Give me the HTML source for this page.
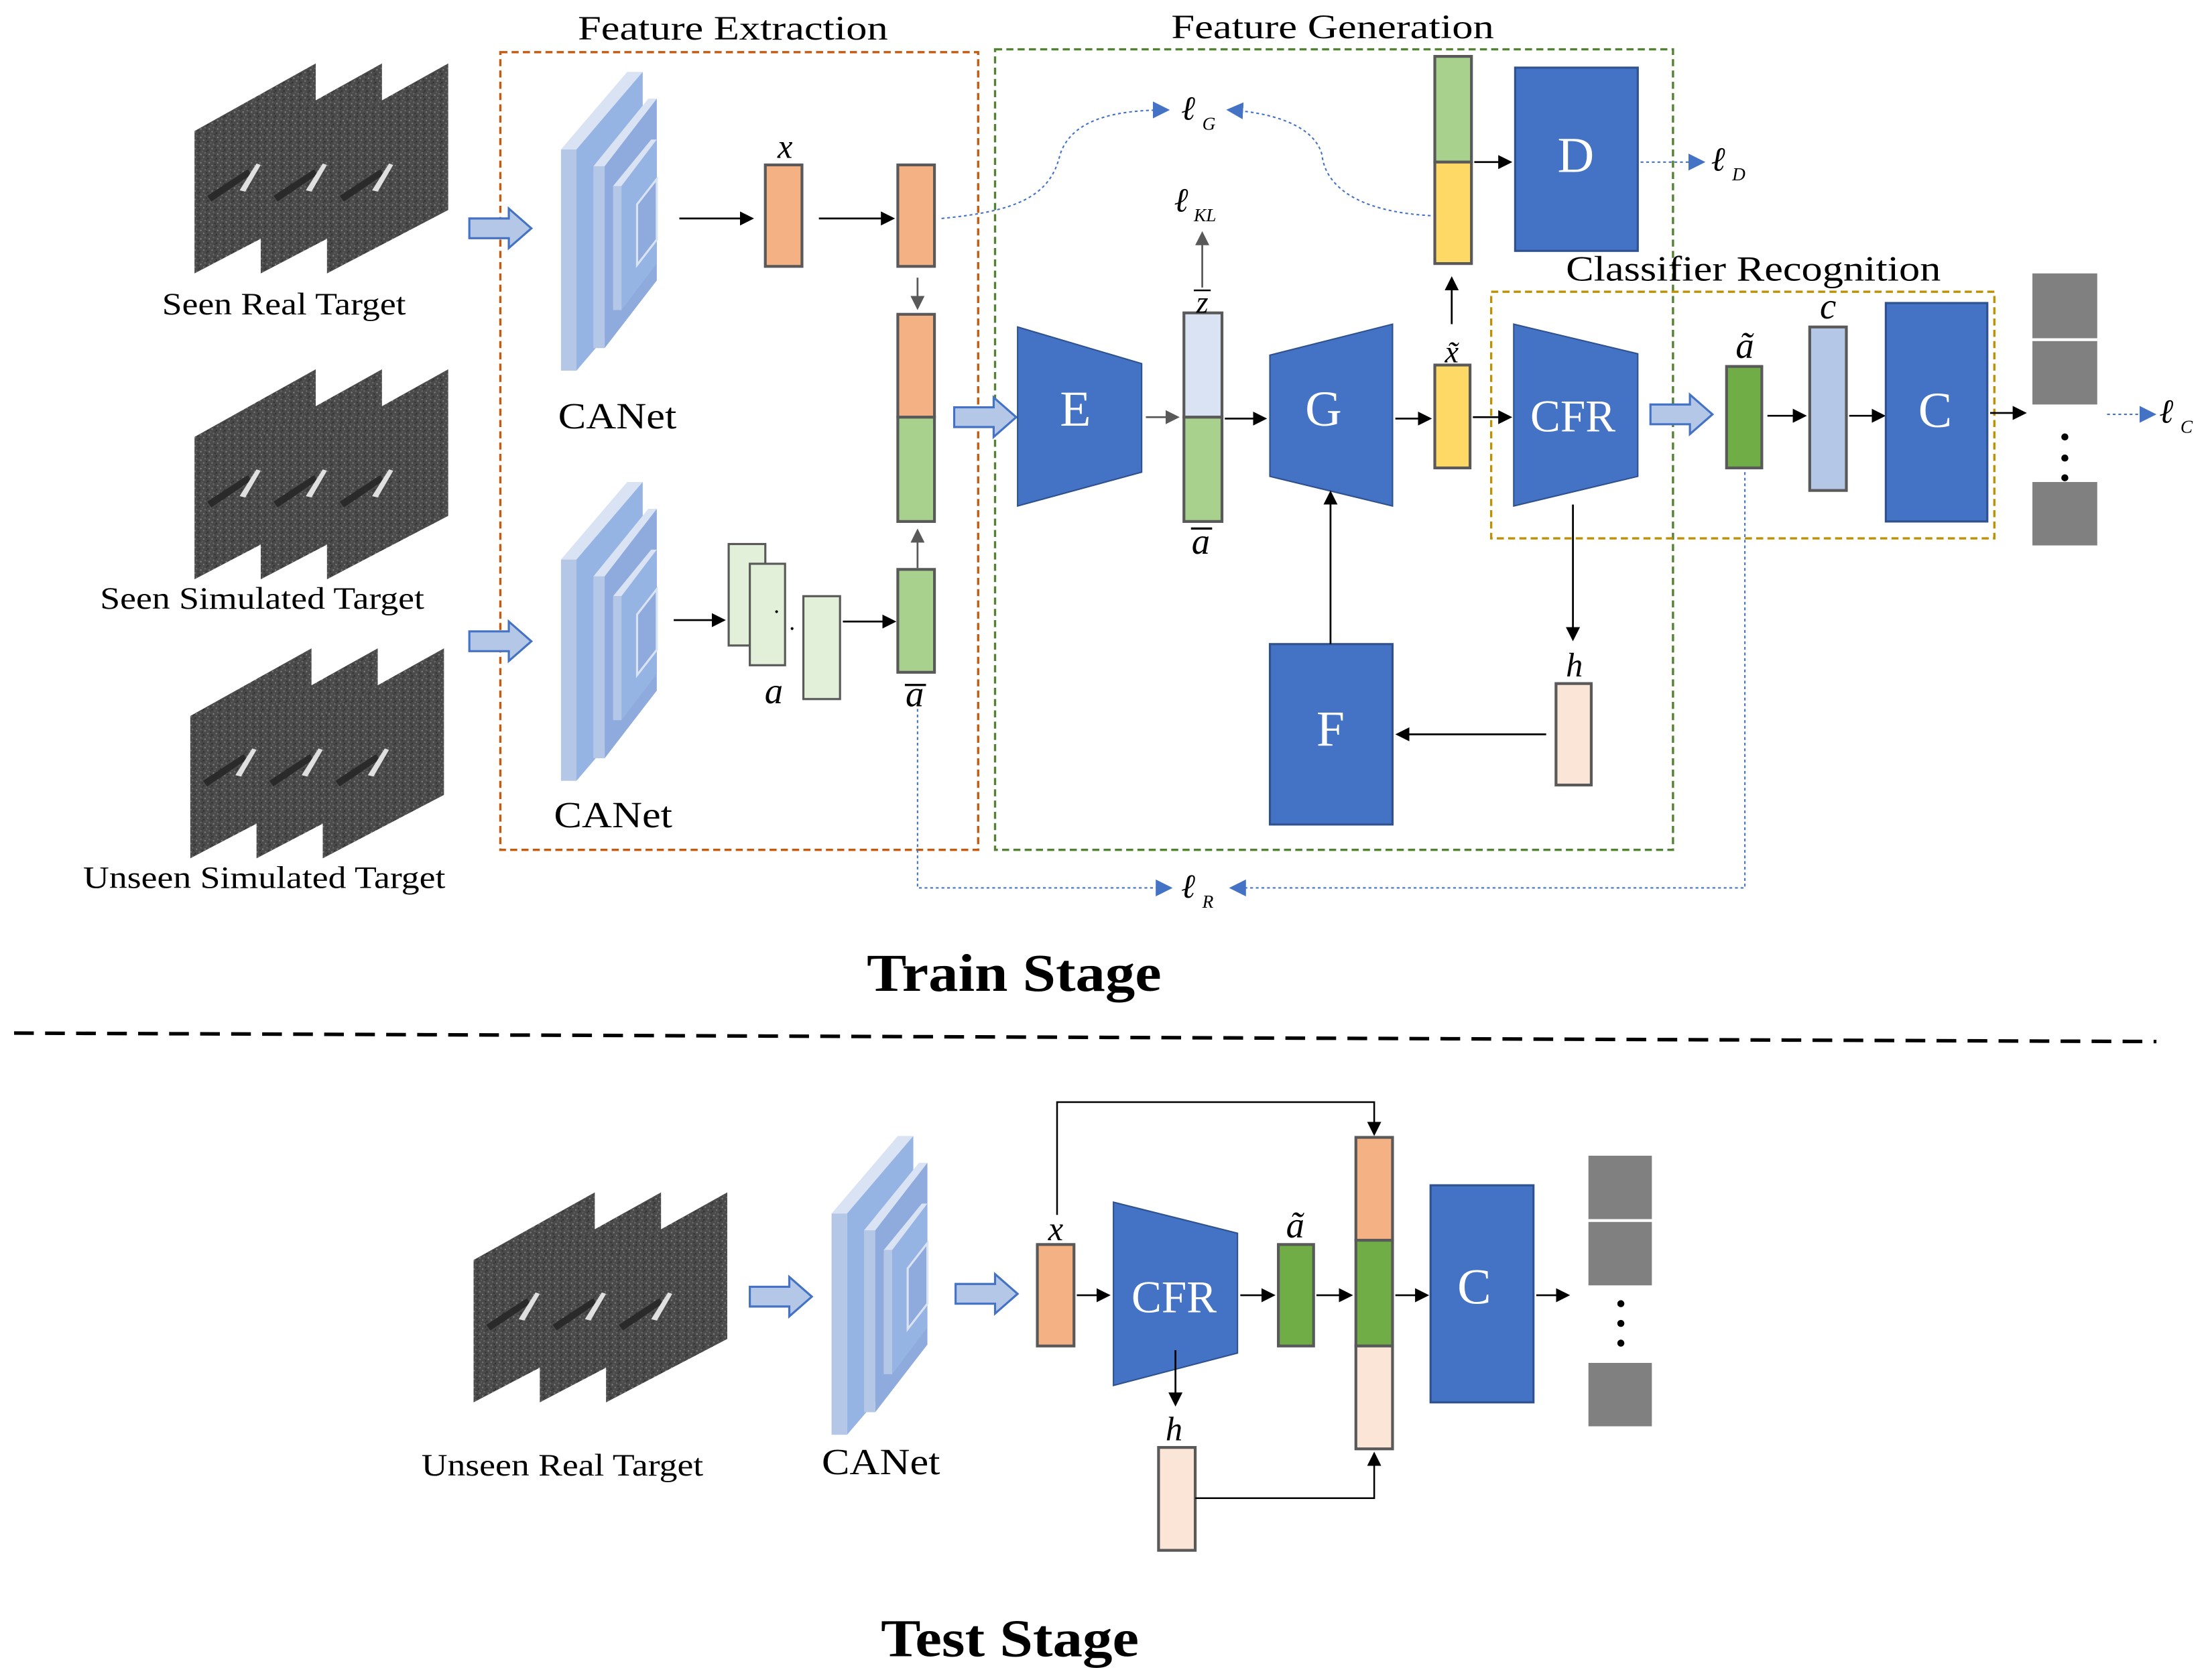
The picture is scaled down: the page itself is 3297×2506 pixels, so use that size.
<!DOCTYPE html>
<html><head><meta charset="utf-8"><style>
html,body{margin:0;padding:0;background:#fff;}
svg{display:block;}
text{font-family:"Liberation Serif",serif;}
</style></head><body>
<svg width="3297" height="2506" viewBox="0 0 1568 1192" preserveAspectRatio="none" xmlns="http://www.w3.org/2000/svg">
<defs>
<pattern id="sar" width="6" height="6" patternUnits="userSpaceOnUse">
<rect width="6" height="6" fill="#4a4a4a"/>
<rect x="0" y="0" width="1" height="1" fill="#777"/>
<rect x="3" y="1" width="1" height="1" fill="#2e2e2e"/>
<rect x="1" y="3" width="1" height="1" fill="#6a6a6a"/>
<rect x="4" y="4" width="1" height="1" fill="#808080"/>
<rect x="2" y="5" width="1" height="1" fill="#333"/>
<rect x="5" y="2" width="1" height="1" fill="#5e5e5e"/>
<rect x="2" y="2" width="1" height="1" fill="#393939"/>
</pattern>
<marker id="ab" markerWidth="10" markerHeight="10" refX="8" refY="5" orient="auto" markerUnits="userSpaceOnUse"><path d="M0,0 L10,5 L0,10 z" fill="#000"/></marker>
<marker id="ag" markerWidth="10" markerHeight="10" refX="8" refY="5" orient="auto" markerUnits="userSpaceOnUse"><path d="M0,0 L10,5 L0,10 z" fill="#595959"/></marker>
<marker id="au" markerWidth="12" markerHeight="12" refX="10" refY="6" orient="auto" markerUnits="userSpaceOnUse"><path d="M0,0 L12,6 L0,12 z" fill="#4472c4"/></marker>
<g id="panel">
<polygon points="0,48 86,0 86,104 0,149" fill="url(#sar)"/>
<path d="M9,94 L38,75 L40,79 L12,98 z" fill="#2a2a2a"/>
<path d="M32,90 L44,71 L47,72 L36,91 z" fill="#e0e0e0"/>
</g>
<g id="stack">
<use href="#panel" x="0" y="0"/>
<use href="#panel" x="47" y="0"/>
<use href="#panel" x="94" y="0"/>
</g>
<g id="canet">
<polygon points="0,55 47,0 58,0 11,55" fill="#dae3f3"/>
<polygon points="11,55 58,0 58,157 11,212" fill="#95b3e3"/>
<rect x="0" y="55" width="11" height="157" fill="#b4c7e7"/>
<polygon points="23,67 62,19 68,19 31,67" fill="#dae3f3"/>
<polygon points="31,67 68,19 68,148 31,196" fill="#8faadc"/>
<rect x="23" y="67" width="8" height="129" fill="#b4c7e7"/>
<polygon points="37,81 64,48 68,48 43,81" fill="#dae3f3"/>
<polygon points="43,81 68,48 68,136 43,169" fill="#95b3e3"/>
<rect x="37" y="81" width="6" height="88" fill="#b4c7e7"/>
<polygon points="54,94 68,76 68,119 54,137" fill="#8faadc" stroke="#dae3f3" stroke-width="1.5"/>
</g>
<g id="barrow">
<path d="M0,-7 L28,-7 L28,-14 L44,0 L28,14 L28,7 L0,7 z" fill="#b4c7e7" stroke="#4472c4" stroke-width="1.5"/>
</g>
</defs>

<!-- titles -->
<text x="410" y="28" font-size="24" textLength="220" lengthAdjust="spacingAndGlyphs">Feature Extraction</text>
<text x="831" y="27" font-size="24" textLength="229" lengthAdjust="spacingAndGlyphs">Feature Generation</text>

<!-- boxes -->
<rect x="355" y="37" width="339" height="566" fill="none" stroke="#c55a11" stroke-width="1.6" stroke-dasharray="5,3"/>
<rect x="706" y="35" width="481" height="568" fill="none" stroke="#548235" stroke-width="1.6" stroke-dasharray="5,3"/>

<!-- image stacks -->
<use href="#stack" x="138" y="45"/>
<use href="#stack" x="138" y="262"/>
<use href="#stack" x="135" y="460"/>
<text x="115" y="223" font-size="22" textLength="173" lengthAdjust="spacingAndGlyphs">Seen Real Target</text>
<text x="71" y="432" font-size="22" textLength="230" lengthAdjust="spacingAndGlyphs">Seen Simulated Target</text>
<text x="59" y="630" font-size="22" textLength="257" lengthAdjust="spacingAndGlyphs">Unseen Simulated Target</text>

<use href="#barrow" x="333" y="162"/>
<use href="#barrow" x="333" y="455"/>

<use href="#canet" x="398" y="51"/>
<use href="#canet" x="398" y="342"/>
<text x="396" y="304" font-size="26" textLength="84" lengthAdjust="spacingAndGlyphs">CANet</text>
<text x="393" y="587" font-size="26" textLength="84" lengthAdjust="spacingAndGlyphs">CANet</text>

<!-- feature extraction contents -->
<text x="557" y="112" font-size="24" font-style="italic" text-anchor="middle">x</text>
<line x1="482" y1="155" x2="533" y2="155" stroke="#000" stroke-width="1.3" marker-end="url(#ab)"/>
<rect x="543" y="117" width="26" height="72" fill="#f4b183" stroke="#595959" stroke-width="2"/>
<line x1="581" y1="155" x2="633" y2="155" stroke="#000" stroke-width="1.3" marker-end="url(#ab)"/>
<rect x="637" y="117" width="26" height="72" fill="#f4b183" stroke="#595959" stroke-width="2"/>
<line x1="651" y1="197" x2="651" y2="218" stroke="#595959" stroke-width="1.3" marker-end="url(#ag)"/>
<rect x="637" y="223" width="26" height="73" fill="#f4b183" stroke="#595959" stroke-width="2"/>
<rect x="637" y="296" width="26" height="74" fill="#a9d18e" stroke="#595959" stroke-width="2"/>
<line x1="651" y1="403" x2="651" y2="377" stroke="#595959" stroke-width="1.3" marker-end="url(#ag)"/>
<rect x="637" y="404" width="26" height="73" fill="#a9d18e" stroke="#595959" stroke-width="2"/>
<text x="649" y="501" font-size="26" font-style="italic" text-anchor="middle">a</text>
<line x1="642" y1="486" x2="657" y2="486" stroke="#000" stroke-width="1.5"/>
<line x1="478" y1="440" x2="513" y2="440" stroke="#000" stroke-width="1.3" marker-end="url(#ab)"/>
<rect x="517" y="386" width="26" height="72" fill="#e2f0d9" stroke="#595959" stroke-width="1.5"/>
<rect x="532" y="400" width="25" height="72" fill="#e2f0d9" stroke="#595959" stroke-width="1.5"/>
<rect x="570" y="423" width="26" height="73" fill="#e2f0d9" stroke="#595959" stroke-width="1.5"/>
<circle cx="551" cy="434" r="1" fill="#000"/><circle cx="562" cy="446" r="1" fill="#000"/>
<line x1="598" y1="441" x2="634" y2="441" stroke="#000" stroke-width="1.3" marker-end="url(#ab)"/>
<text x="549" y="499" font-size="26" font-style="italic" text-anchor="middle">a</text>

<!-- generation -->
<use href="#barrow" x="677" y="296"/>
<polygon points="722,232 810,258 810,335 722,359" fill="#4472c4" stroke="#2f528f" stroke-width="1"/>
<text x="763" y="302" font-size="36" fill="#fff" text-anchor="middle">E</text>
<line x1="813" y1="296" x2="835" y2="296" stroke="#595959" stroke-width="1.3" marker-end="url(#ag)"/>
<rect x="840" y="222" width="27" height="74" fill="#dae3f3" stroke="#595959" stroke-width="2"/>
<rect x="840" y="296" width="27" height="74" fill="#a9d18e" stroke="#595959" stroke-width="2"/>
<text x="853" y="222" font-size="22" font-style="italic" text-anchor="middle">z</text>
<line x1="847" y1="206" x2="859" y2="206" stroke="#000" stroke-width="1.2"/>
<text x="852" y="393" font-size="26" font-style="italic" text-anchor="middle">a</text>
<line x1="845" y1="375" x2="860" y2="375" stroke="#000" stroke-width="1.5"/>
<line x1="853" y1="204" x2="853" y2="166" stroke="#595959" stroke-width="1.3" marker-end="url(#ag)"/>
<text x="833" y="150" font-size="24" font-style="italic">ℓ</text><text x="847" y="157" font-size="13" font-style="italic">KL</text>
<line x1="869" y1="297" x2="897" y2="297" stroke="#000" stroke-width="1.3" marker-end="url(#ab)"/>
<polygon points="901,252 988,230 988,359 901,338" fill="#4472c4" stroke="#2f528f" stroke-width="1"/>
<text x="939" y="302" font-size="36" fill="#fff" text-anchor="middle">G</text>
<line x1="990" y1="297" x2="1014" y2="297" stroke="#000" stroke-width="1.3" marker-end="url(#ab)"/>
<rect x="1018" y="259" width="25" height="73" fill="#ffd966" stroke="#595959" stroke-width="2"/>
<text x="1030" y="257" font-size="22" font-style="italic" text-anchor="middle">x̃</text>
<line x1="1045" y1="296" x2="1071" y2="296" stroke="#000" stroke-width="1.3" marker-end="url(#ab)"/>
<line x1="1030" y1="230" x2="1030" y2="198" stroke="#000" stroke-width="1.3" marker-end="url(#ab)"/>
<rect x="1018" y="40" width="26" height="75" fill="#a9d18e" stroke="#595959" stroke-width="2"/>
<rect x="1018" y="115" width="26" height="72" fill="#ffd966" stroke="#595959" stroke-width="2"/>
<line x1="1046" y1="115" x2="1071" y2="115" stroke="#000" stroke-width="1.3" marker-end="url(#ab)"/>
<rect x="1075" y="48" width="87" height="130" fill="#4472c4" stroke="#2f528f" stroke-width="1.5"/>
<text x="1118" y="122" font-size="36" fill="#fff" text-anchor="middle">D</text>
<line x1="1164" y1="115" x2="1208" y2="115" stroke="#4472c4" stroke-width="1" stroke-dasharray="2,2" marker-end="url(#au)"/>
<text x="1214" y="121" font-size="24" font-style="italic">ℓ</text><text x="1229" y="128" font-size="13" font-style="italic">D</text>
<path d="M668,155 C720,150 745,140 752,110 C760,85 790,78 828,78" fill="none" stroke="#4472c4" stroke-width="1" stroke-dasharray="2,2" marker-end="url(#au)"/>
<path d="M1015,153 C960,150 940,130 938,110 C933,90 905,80 872,78" fill="none" stroke="#4472c4" stroke-width="1" stroke-dasharray="2,2" marker-end="url(#au)"/>
<text x="838" y="85" font-size="24" font-style="italic">ℓ</text><text x="853" y="92" font-size="13" font-style="italic">G</text>
<rect x="901" y="457" width="87" height="128" fill="#4472c4" stroke="#2f528f" stroke-width="1.5"/>
<text x="944" y="529" font-size="36" fill="#fff" text-anchor="middle">F</text>
<line x1="944" y1="457" x2="944" y2="350" stroke="#000" stroke-width="1.3" marker-end="url(#ab)"/>
<rect x="1104" y="485" width="25" height="72" fill="#fbe5d6" stroke="#595959" stroke-width="2"/>
<text x="1117" y="480" font-size="24" font-style="italic" text-anchor="middle">h</text>
<line x1="1097" y1="521" x2="992" y2="521" stroke="#000" stroke-width="1.3" marker-end="url(#ab)"/>
<line x1="1116" y1="358" x2="1116" y2="453" stroke="#000" stroke-width="1.3" marker-end="url(#ab)"/>

<!-- classifier -->
<rect x="1058" y="207" width="357" height="175" fill="none" stroke="#bf9000" stroke-width="1.6" stroke-dasharray="5,3"/>
<text x="1111" y="199" font-size="25" textLength="266" lengthAdjust="spacingAndGlyphs">Classifier Recognition</text>
<polygon points="1074,230 1162,251 1162,338 1074,359" fill="#4472c4" stroke="#2f528f" stroke-width="1"/>
<text x="1116" y="306" font-size="32" fill="#fff" text-anchor="middle">CFR</text>
<use href="#barrow" x="1171" y="294"/>
<rect x="1225" y="260" width="25" height="72" fill="#70ad47" stroke="#595959" stroke-width="2"/>
<text x="1238" y="254" font-size="26" font-style="italic" text-anchor="middle">ã</text>
<line x1="1254" y1="295" x2="1280" y2="295" stroke="#000" stroke-width="1.3" marker-end="url(#ab)"/>
<rect x="1284" y="232" width="26" height="116" fill="#b4c7e7" stroke="#595959" stroke-width="2"/>
<text x="1297" y="226" font-size="26" font-style="italic" text-anchor="middle">c</text>
<line x1="1312" y1="295" x2="1336" y2="295" stroke="#000" stroke-width="1.3" marker-end="url(#ab)"/>
<rect x="1338" y="215" width="72" height="155" fill="#4472c4" stroke="#2f528f" stroke-width="1.5"/>
<text x="1373" y="303" font-size="36" fill="#fff" text-anchor="middle">C</text>
<line x1="1412" y1="293" x2="1436" y2="293" stroke="#000" stroke-width="1.3" marker-end="url(#ab)"/>
<rect x="1442" y="194" width="46" height="46" fill="#808080"/>
<rect x="1442" y="242" width="46" height="45" fill="#808080"/>
<circle cx="1465" cy="310" r="2.5" fill="#000"/><circle cx="1465" cy="325" r="2.5" fill="#000"/><circle cx="1465" cy="339" r="2.5" fill="#000"/>
<rect x="1442" y="342" width="46" height="45" fill="#808080"/>
<line x1="1495" y1="294" x2="1528" y2="294" stroke="#4472c4" stroke-width="1" stroke-dasharray="2,2" marker-end="url(#au)"/>
<text x="1532" y="300" font-size="24" font-style="italic">ℓ</text><text x="1547" y="307" font-size="13" font-style="italic">C</text>

<!-- R loss -->
<polyline points="651,503 651,630 830,630" fill="none" stroke="#4472c4" stroke-width="1" stroke-dasharray="2,2" marker-end="url(#au)"/>
<polyline points="1238,335 1238,630 874,630" fill="none" stroke="#4472c4" stroke-width="1" stroke-dasharray="2,2" marker-end="url(#au)"/>
<text x="838" y="637" font-size="24" font-style="italic">ℓ</text><text x="853" y="644" font-size="13" font-style="italic">R</text>

<text x="615" y="703" font-size="38" font-weight="bold" textLength="209" lengthAdjust="spacingAndGlyphs">Train Stage</text>
<line x1="10" y1="733" x2="1530" y2="739" stroke="#000" stroke-width="2.5" stroke-dasharray="14,8"/>

<!-- test -->
<use href="#stack" x="336" y="846"/>
<text x="299" y="1047" font-size="22" textLength="200" lengthAdjust="spacingAndGlyphs">Unseen Real Target</text>
<use href="#barrow" x="532" y="920"/>
<use href="#canet" x="590" y="806"/>
<text x="583" y="1046" font-size="26" textLength="84" lengthAdjust="spacingAndGlyphs">CANet</text>
<use href="#barrow" x="678" y="918"/>
<rect x="736" y="883" width="26" height="72" fill="#f4b183" stroke="#595959" stroke-width="2"/>
<text x="749" y="880" font-size="24" font-style="italic" text-anchor="middle">x</text>
<polyline points="750,862 750,782 975,782 975,804" fill="none" stroke="#000" stroke-width="1.2" marker-end="url(#ab)"/>
<line x1="764" y1="919" x2="786" y2="919" stroke="#000" stroke-width="1.3" marker-end="url(#ab)"/>
<polygon points="790,853 878,875 878,960 790,983" fill="#4472c4" stroke="#2f528f" stroke-width="1"/>
<text x="833" y="931" font-size="32" fill="#fff" text-anchor="middle">CFR</text>
<line x1="880" y1="919" x2="903" y2="919" stroke="#000" stroke-width="1.3" marker-end="url(#ab)"/>
<rect x="907" y="883" width="25" height="72" fill="#70ad47" stroke="#595959" stroke-width="2"/>
<text x="919" y="878" font-size="26" font-style="italic" text-anchor="middle">ã</text>
<line x1="934" y1="919" x2="958" y2="919" stroke="#000" stroke-width="1.3" marker-end="url(#ab)"/>
<rect x="962" y="807" width="26" height="73" fill="#f4b183" stroke="#595959" stroke-width="2"/>
<rect x="962" y="880" width="26" height="75" fill="#70ad47" stroke="#595959" stroke-width="2"/>
<rect x="962" y="955" width="26" height="73" fill="#fbe5d6" stroke="#595959" stroke-width="2"/>
<line x1="990" y1="919" x2="1012" y2="919" stroke="#000" stroke-width="1.3" marker-end="url(#ab)"/>
<rect x="1015" y="841" width="73" height="154" fill="#4472c4" stroke="#2f528f" stroke-width="1.5"/>
<text x="1046" y="925" font-size="36" fill="#fff" text-anchor="middle">C</text>
<line x1="1090" y1="919" x2="1112" y2="919" stroke="#000" stroke-width="1.3" marker-end="url(#ab)"/>
<rect x="1127" y="820" width="45" height="45" fill="#808080"/>
<rect x="1127" y="867" width="45" height="45" fill="#808080"/>
<circle cx="1150" cy="925" r="2.5" fill="#000"/><circle cx="1150" cy="939" r="2.5" fill="#000"/><circle cx="1150" cy="953" r="2.5" fill="#000"/>
<rect x="1127" y="967" width="45" height="45" fill="#808080"/>
<line x1="834" y1="958" x2="834" y2="996" stroke="#000" stroke-width="1.3" marker-end="url(#ab)"/>
<text x="833" y="1022" font-size="24" font-style="italic" text-anchor="middle">h</text>
<rect x="822" y="1027" width="26" height="73" fill="#fbe5d6" stroke="#595959" stroke-width="2"/>
<polyline points="848,1063 975,1063 975,1032" fill="none" stroke="#000" stroke-width="1.2" marker-end="url(#ab)"/>

<text x="625" y="1175" font-size="38" font-weight="bold" textLength="183" lengthAdjust="spacingAndGlyphs">Test Stage</text>
</svg>
</body></html>
